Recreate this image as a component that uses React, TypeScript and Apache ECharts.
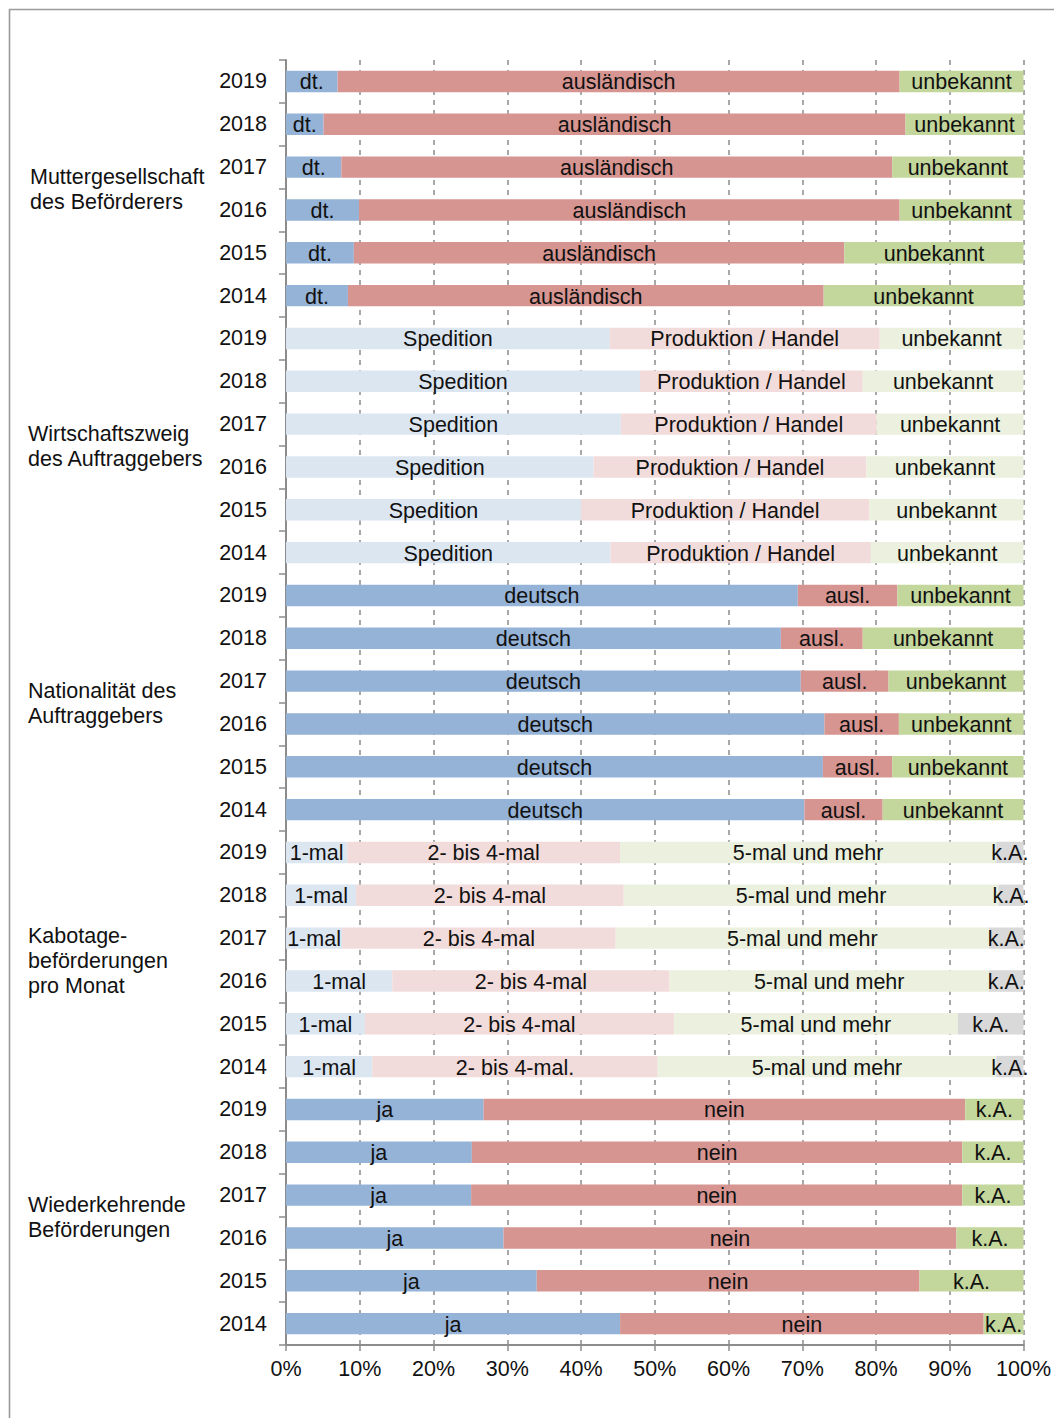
import React, { useEffect, useRef } from "react";
import * as echarts from "echarts";

const years = ["2019", "2018", "2017", "2016", "2015", "2014"];

// Muttergesellschaft des Beförderers
const mutterDt = [7.0, 5.1, 7.5, 9.9, 9.2, 8.4];
const mutterAusl = [76.2, 78.9, 74.7, 73.3, 66.5, 64.5];
const mutterUnb = [16.8, 16.0, 17.8, 16.8, 24.3, 27.1];

// Wirtschaftszweig des Auftraggebers
const zweigSped = [43.9, 48.0, 45.4, 41.7, 40.0, 44.0];
const zweigProd = [36.6, 30.2, 34.7, 37.0, 39.1, 35.3];
const zweigUnb = [19.5, 21.8, 19.9, 21.3, 20.9, 20.7];

// Nationalität des Auftraggebers
const natDeutsch = [69.4, 67.1, 69.8, 73.0, 72.8, 70.3];
const natAusl = [13.5, 11.1, 11.9, 10.1, 9.4, 10.6];
const natUnb = [17.1, 21.8, 18.3, 16.9, 17.8, 19.1];

// Kabotagebeförderungen pro Monat
const kabEinmal = [8.3, 9.5, 7.6, 14.4, 10.7, 11.7];
const kabZwei = [37.0, 36.3, 37.1, 37.6, 41.9, 38.7];
const kabFuenf = [51.0, 50.8, 50.6, 43.3, 38.5, 45.9];
const kabKA = [3.7, 3.4, 4.7, 4.7, 8.9, 3.7];

// Wiederkehrende Beförderungen
const wiedJa = [26.8, 25.2, 25.1, 29.5, 34.0, 45.3];
const wiedNein = [65.3, 66.5, 66.6, 61.4, 51.9, 49.3];
const wiedKA = [7.9, 8.3, 8.3, 9.1, 14.1, 5.4];

const groupLabels = [
  "Muttergesellschaft\ndes Beförderers",
  "Wirtschaftszweig\ndes Auftraggebers",
  "Nationalität des\nAuftraggebers",
  "Kabotage-\nbeförderungen\npro Monat",
  "Wiederkehrende\nBeförderungen",
];

const xTicks = ["0%", "10%", "20%", "30%", "40%", "50%", "60%", "70%", "80%", "90%", "100%"];

const C_BLUE = "#95B3D7";
const C_RED = "#D69591";
const C_GREEN = "#C3D69B";
const L_BLUE = "#DCE6F1";
const L_RED = "#F2DCDB";
const L_GREEN = "#EBF1DE";
const GRAY = "#D9D9D9";

const FONT = "'Liberation Sans', Arial, sans-serif";
const FS = 21.5;

type Group = {
  values: number[][];
  labels: string[][];
  colors: string[];
};

const groups: Group[] = [
  {
    values: [mutterDt, mutterAusl, mutterUnb],
    labels: [
      years.map(() => "dt."),
      years.map(() => "ausländisch"),
      years.map(() => "unbekannt"),
    ],
    colors: [C_BLUE, C_RED, C_GREEN],
  },
  {
    values: [zweigSped, zweigProd, zweigUnb],
    labels: [
      years.map(() => "Spedition"),
      years.map(() => "Produktion / Handel"),
      years.map(() => "unbekannt"),
    ],
    colors: [L_BLUE, L_RED, L_GREEN],
  },
  {
    values: [natDeutsch, natAusl, natUnb],
    labels: [
      years.map(() => "deutsch"),
      years.map(() => "ausl."),
      years.map(() => "unbekannt"),
    ],
    colors: [C_BLUE, C_RED, C_GREEN],
  },
  {
    values: [kabEinmal, kabZwei, kabFuenf, kabKA],
    labels: [
      years.map(() => "1-mal"),
      ["2- bis 4-mal", "2- bis 4-mal", "2- bis 4-mal", "2- bis 4-mal", "2- bis 4-mal", "2- bis 4-mal."],
      years.map(() => "5-mal und mehr"),
      years.map(() => "k.A."),
    ],
    colors: [L_BLUE, L_RED, L_GREEN, GRAY],
  },
  {
    values: [wiedJa, wiedNein, wiedKA],
    labels: [
      years.map(() => "ja"),
      years.map(() => "nein"),
      years.map(() => "k.A."),
    ],
    colors: [C_BLUE, C_RED, C_GREEN],
  },
];

export default function App() {
  const ref = useRef<HTMLDivElement>(null);

  useEffect(() => {
    if (!ref.current) return;
    const chart = echarts.init(ref.current, undefined, { renderer: "svg" });

    const categories: string[] = [];
    groups.forEach(() => years.forEach((y) => categories.push(y)));

    const labelTexts: string[][] = [[], [], [], []];
    const seriesData: any[][] = [[], [], [], []];
    groups.forEach((g) => {
      years.forEach((_, yi) => {
        for (let s = 0; s < 4; s++) {
          const vals = g.values[s];
          if (vals) {
            seriesData[s].push({ value: vals[yi], itemStyle: { color: g.colors[s] } });
            labelTexts[s].push(g.labels[s][yi]);
          } else {
            seriesData[s].push({ value: 0, itemStyle: { color: "transparent" } });
            labelTexts[s].push("");
          }
        }
      });
    });

    const top = 60;
    const bottom = 73;
    const height = 1418 - top - bottom;
    const rowH = height / categories.length;

    const graphics: any[] = [
      {
        type: "rect",
        shape: { x: 9.5, y: 9.5, width: 1200, height: 1600 },
        style: { fill: "none", stroke: "#9a9a9a", lineWidth: 1.6 },
        silent: true,
        z: 0,
      },
    ];
    groupLabels.forEach((t, gi) => {
      graphics.push({
        type: "text",
        x: gi === 0 ? 30 : 28,
        y: top + (gi * 6 + 3) * rowH + 1,
        style: {
          text: t,
          font: `${FS}px ${FONT}`,
          fill: "#111",
          lineHeight: 25,
          verticalAlign: "middle",
          align: "left",
        },
      });
    });

    chart.setOption({
      animation: false,
      backgroundColor: "#fff",
      textStyle: { fontFamily: FONT },
      grid: { left: 286, right: 30, top, bottom, containLabel: false },
      xAxis: {
        type: "value",
        min: 0,
        max: 100,
        interval: 10,
        axisLine: { show: true, lineStyle: { color: "#8c8c8c", width: 2 } },
        axisTick: { show: true, length: 6, lineStyle: { color: "#8c8c8c", width: 1.5 } },
        axisLabel: {
          formatter: (v: number) => xTicks[Math.round(v / 10)],
          color: "#111",
          fontSize: FS,
          fontFamily: FONT,
          margin: 13,
        },
        splitLine: {
          show: true,
          lineStyle: { color: "#8c8c8c", width: 1.5, type: [5, 5] },
        },
      },
      yAxis: {
        type: "category",
        inverse: true,
        data: categories,
        axisLine: { show: true, lineStyle: { color: "#8c8c8c", width: 2 } },
        axisTick: { show: true, length: 7, lineStyle: { color: "#8c8c8c", width: 1.5 } },
        axisLabel: { color: "#111", fontSize: FS, fontFamily: FONT, margin: 19 },
        splitLine: { show: false },
      },
      graphic: graphics,
      series: seriesData.map((d, s) => ({
        type: "bar",
        stack: "total",
        barWidth: "50%",
        data: d,
        z: 3,
        label: {
          show: true,
          position: "inside",
          color: "#111",
          fontSize: FS,
          fontFamily: FONT,
          offset: [0, 1],
          formatter: (p: any) => labelTexts[s][p.dataIndex],
        },
        emphasis: { disabled: true },
      })),
    });

    return () => chart.dispose();
  }, []);

  return (
    <div
      ref={ref}
      style={{ position: "absolute", left: 0, top: 0, width: 1054, height: 1418 }}
    />
  );
}
